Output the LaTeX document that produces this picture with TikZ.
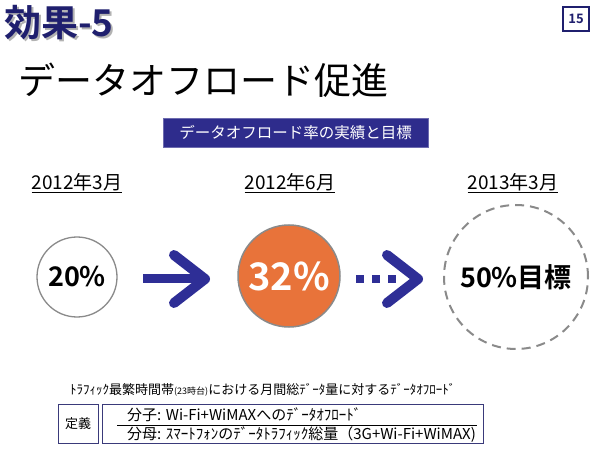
\documentclass[tikz,border=0pt]{standalone}
\usepackage{fontspec}
\setmainfont{Noto Sans CJK JP}
\newfontfamily\jp{Noto Sans CJK JP}
\newfontfamily\jpb{Noto Sans CJK JP Bold}
\usetikzlibrary{calc}
\definecolor{navy}{HTML}{1F1F6E}
\definecolor{bannerblue}{HTML}{2E2C8C}
\definecolor{arrowblue}{HTML}{2E2E96}
\definecolor{orangefill}{HTML}{E8733A}
\definecolor{circgray}{HTML}{8A8A8A}
\definecolor{boxline}{HTML}{3A3A7A}
\tikzset{
  datelabel/.style={font=\jp\fontsize{19}{19}\selectfont, text=black, inner sep=0pt},
  chevron/.style={draw=arrowblue, line width=10pt, line cap=round, line join=round},
  sqdot/.style={fill=arrowblue, minimum size=8.5pt, inner sep=0pt},
  defbox/.style={draw=boxline, line width=1pt},
  deftext/.style={anchor=west, inner sep=0pt, font=\jp\fontsize{15}{15}\selectfont},
}
\begin{document}
\begin{tikzpicture}[x=1pt,y=-1pt]
\useasboundingbox[fill=white] (0,0) rectangle (600,449);
% title with shadow
\node[anchor=west, inner sep=0pt, font=\jpb\fontsize{37}{37}\selectfont] (title) at (4,23.5)
  {\makebox[0pt][l]{\hspace{2pt}\raisebox{-2pt}{\color{black!30}効果-5}}\color{navy}効果-5};
% page number
\node[draw=navy, line width=1.2pt, minimum width=26pt, minimum height=24pt, inner sep=0pt, text=navy, font=\jpb\fontsize{13}{13}\selectfont] (pg) at (576,19) {15};
% main title
\node[anchor=west, inner sep=0pt, font=\jp\fontsize{37}{37}\selectfont] (main) at (18,80) {データオフロード促進};
% banner
\node[fill=bannerblue, draw=bannerblue!70!white, minimum width=265pt, minimum height=29pt, inner sep=0pt, text=white, font=\jp\fontsize{15.5}{15.5}\selectfont] (banner) at (295.5,132.5) {データオフロード率の実績と目標};
% dates
\node[datelabel] (d1) at (77,183) {\underline{2012年3月}};
\node[datelabel] (d2) at (290,183) {\underline{2012年6月}};
\node[datelabel] (d3) at (513,183) {\underline{2013年3月}};
% circles
\node[circle, draw=circgray, line width=1.3pt, minimum size=80pt, inner sep=0pt, font=\jpb\fontsize{27}{27}\selectfont] (c1) at (77,277) {20\%};
\node[circle, draw=circgray, line width=1.5pt, fill=orangefill, minimum size=102pt, inner sep=0pt, text=white, font=\jpb\fontsize{38}{38}\selectfont] (c2) at (289,276) {32\%};
\node[circle, draw=circgray, line width=2pt, dash pattern=on 9pt off 6pt, minimum size=144pt, inner sep=0pt, font=\jpb\fontsize{27}{27}\selectfont] (c3) at (516,277) {50\%目標};
% arrow 1
\coordinate (a1s) at (143,279);
\coordinate (a1t) at (205,279);
\draw[draw=arrowblue, line width=9pt] (a1s) -- ($(a1t)+(-4,0)$);
\draw[chevron] ($(a1t)+(-31,-24)$) -- (a1t) -- ($(a1t)+(-31,24)$);
% dotted arrow
\node[sqdot] (s1) at (360,279) {};
\node[sqdot] (s2) at (376,279) {};
\node[sqdot] (s3) at (392,279) {};
\coordinate (a2t) at (418,279);
\draw[chevron] ($(a2t)+(-31,-24)$) -- (a2t) -- ($(a2t)+(-31,24)$);
% footnote
\node[anchor=west, inner sep=0pt, font=\jp\fontsize{13}{13}\selectfont] (fn) at (70,390) {ﾄﾗﾌｨｯｸ最繁時間帯{\fontsize{9}{9}\selectfont(23時台)}における月間総ﾃﾞｰﾀ量に対するﾃﾞｰﾀｵﾌﾛｰﾄﾞ};
% definition boxes
\draw[defbox] (58,404) rectangle (98,443);
\node[font=\jp\fontsize{13}{13}\selectfont, inner sep=0pt] (teigi) at (78,423.5) {定義};
\draw[defbox] (102,404) rectangle (483,443);
\node[deftext] (num) at (127,414.5) {分子: Wi-Fi+WiMAXへのﾃﾞｰﾀｵﾌﾛｰﾄﾞ};
\coordinate (fl) at (117,425);
\coordinate (fr) at (477,425);
\draw[black, line width=0.8pt] (fl) -- (fr);
\node[deftext] (den) at (127,435) {分母: ｽﾏｰﾄﾌｫﾝのﾃﾞｰﾀﾄﾗﾌｨｯｸ総量（3G+Wi-Fi+WiMAX)};
\end{tikzpicture}
\end{document}
